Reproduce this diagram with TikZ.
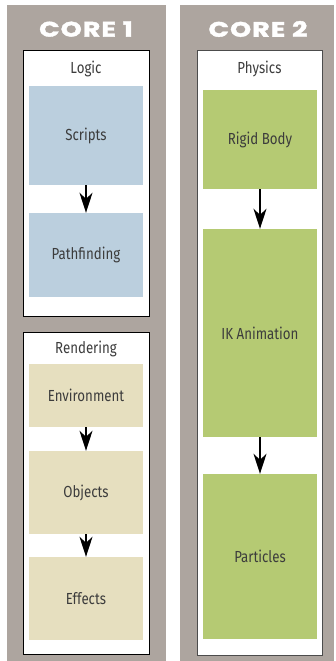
\documentclass[tikz,border=0pt]{standalone}
\usepackage{fontspec}
\setmainfont{Fira Sans}
\newfontfamily\labelfont[FakeStretch=0.83]{Fira Sans}
\newfontfamily\titlefont[UprightFont={* Bold}, FakeBold=1.8, FakeStretch=1.28, LetterSpace=5]{Poppins}
\usetikzlibrary{arrows.meta}

\definecolor{panelgray}{HTML}{ADA59F}
\definecolor{logicblue}{HTML}{BBCFDE}
\definecolor{renderbeige}{HTML}{E6DFBF}
\definecolor{physgreen}{HTML}{B5CA73}
\definecolor{labeltext}{HTML}{3C3C3C}

\tikzset{
  corepanel/.style={fill=panelgray, draw=none, inner sep=0pt},
  coretitle/.style={text=white, inner sep=0pt, font=\titlefont\fontsize{21}{25}\selectfont},
  groupbox/.style={draw=black, fill=white, line width=1pt, inner sep=0pt},
  grouptitle/.style={text=labeltext, inner sep=0pt, font=\labelfont\fontsize{16}{19}\selectfont},
  task/.style={draw=none, inner sep=0pt, minimum width=114pt, text=labeltext,
    font=\labelfont\fontsize{16}{19}\selectfont},
  flow/.style={-{Stealth[length=20pt,width=13pt,inset=6pt]}, line width=1.6pt}
}

\begin{document}
\begin{tikzpicture}[x=1pt,y=-1pt]
  \fill[white] (0,0) rectangle (335,661);
  \useasboundingbox (0,0) rectangle (335,661);

  % two core columns
  \node[corepanel, minimum width=159pt, minimum height=656pt] (core1) at (86.5,333) {};
  \node[corepanel, minimum width=154pt, minimum height=656pt] (core2) at (257,333) {};
  \node[coretitle] (core1title) at (86,29) {CORE 1};
  \node[coretitle] (core2title) at (258,29) {CORE 2};

  % core 1: logic group
  \node[groupbox, minimum width=126pt, minimum height=265pt] (logic) at (86,183.5) {};
  \node[grouptitle] (logictitle) at (86,69) {Logic};
  \node[task, fill=logicblue, minimum height=99pt] (scripts) at (86,135.5) {Scripts};
  \node[task, fill=logicblue, minimum height=84pt] (pathfinding) at (86,255) {Pathfinding};
  \draw[flow] (scripts.south) -- (pathfinding.north);

  % core 1: rendering group
  \node[groupbox, minimum width=126pt, minimum height=322pt] (rendering) at (86,493) {};
  \node[grouptitle] (renderingtitle) at (86,349) {Rendering};
  \node[task, fill=renderbeige, minimum height=63pt] (environment) at (86,395.5) {Environment};
  \node[task, fill=renderbeige, minimum height=83pt] (objects) at (86,492.5) {Objects};
  \node[task, fill=renderbeige, minimum height=83pt] (effects) at (86,598.5) {Effects};
  \draw[flow] (environment.south) -- (objects.north);
  \draw[flow] (objects.south) -- (effects.north);

  % core 2: physics group
  \node[groupbox, draw=black!70, minimum width=125pt, minimum height=604pt] (physics) at (259.5,353) {};
  \node[grouptitle] (physicstitle) at (259.5,69) {Physics};
  \node[task, fill=physgreen, minimum height=99pt] (rigidbody) at (260,139.5) {Rigid Body};
  \node[task, fill=physgreen, minimum height=208pt] (ikanim) at (260,333) {IK Animation};
  \node[task, fill=physgreen, minimum height=165pt] (particles) at (260,556.5) {Particles};
  \draw[flow] (rigidbody.south) -- (ikanim.north);
  \draw[flow] (ikanim.south) -- (particles.north);
\end{tikzpicture}
\end{document}
